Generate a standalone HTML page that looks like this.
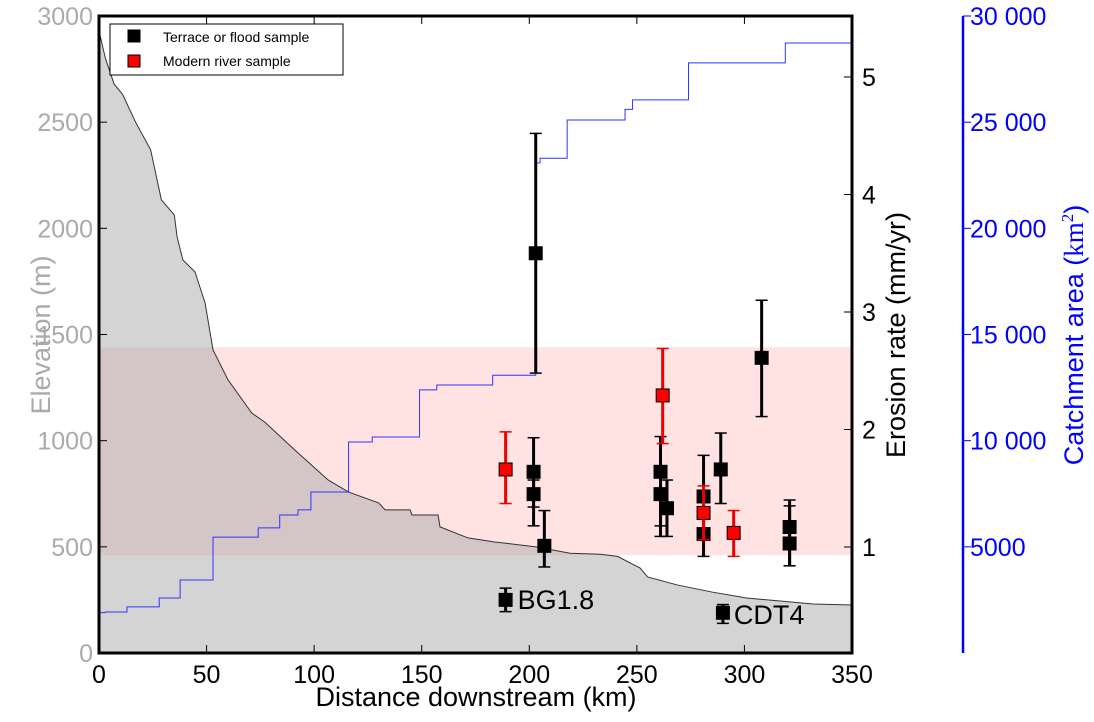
<!DOCTYPE html>
<html><head><meta charset="utf-8"><style>
body{margin:0;background:#fff}
text{font-family:"Liberation Sans",sans-serif}
</style></head><body>
<svg id="chart" width="1094" height="717" xmlns="http://www.w3.org/2000/svg"></svg>
<script>
// ---- data ----
const profileKm   = [0,3,7,11,17,24,29,35,36.3,39,44.6,49.3,53,60,71,77,91,106.5,116,130,133,144.6,145.5,157.6,158.5,171.5,184,203,219,233,241,251.5,255,269,285,301,332,350];
const profileElev = [2930,2800,2680,2630,2500,2370,2134,2063,1960,1851,1795,1649,1427,1286,1130,1088,956,815,758,707,674,674,650,650,594,542,523,500,470,465,455,400,358,320,287,259,231,226];
const catchKm   = [0,3,13,28,37.7,53,74,84,92.5,98.5,116,127,149,157,183,203,205,217.6,244.5,248,274,319,350];
const catchArea = [1900,1930,2170,2590,3440,5460,5890,6500,6740,7580,9940,10170,12390,12620,13080,23080,23300,25100,25600,26050,27790,28730,28870];
const blackKm  = [203,202,202,207,261,261,264,281,281,289,308,321,321,189,290];
const blackVal = [3.50,1.64,1.45,1.01,1.64,1.45,1.33,1.43,1.11,1.66,2.61,1.17,1.03,0.55,0.44];
const blackLo  = [2.48,1.18,1.34,0.83,1.18,1.09,1.09,1.08,0.92,1.37,2.11,0.84,0.84,0.45,0.35];
const blackHi  = [4.52,1.93,1.57,1.31,1.94,1.62,1.57,1.78,1.30,1.97,3.10,1.40,1.35,0.65,0.51];
const redKm  = [189,262,281,295];
const redVal = [1.66,2.29,1.29,1.12];
const redLo  = [1.37,1.88,1.06,0.92];
const redHi  = [1.98,2.69,1.52,1.31];
const xTicks = [0,50,100,150,200,250,300,350];
const elevTicks = [0,500,1000,1500,2000,2500,3000];
const erosTicks = [1,2,3,4,5];
const catchTicks = [5000,10000,15000,20000,25000,30000];
const catchLabels = ["5000","10 000","15 000","20 000","25 000","30 000"];
const bandLo = 0.93, bandHi = 2.70;

// ---- scales ----
const L=99,R=852,T=16,B=653;
const X=v=>L+v*(R-L)/350;
const YE=v=>B-v*(B-T)/3000;
const YR=v=>664.5-v*117.5;
const YC=v=>B-v*(B-T)/30000;
const svg=document.getElementById('chart');
const NS='http://www.w3.org/2000/svg';
function mk(tag,attrs,parent){const e=document.createElementNS(NS,tag);for(const k in attrs)e.setAttribute(k,attrs[k]);(parent||svg).appendChild(e);return e;}

let e=mk('rect',{x:L,y:YR(bandHi),width:R-L,height:YR(bandLo)-YR(bandHi),fill:'#ffcccc','fill-opacity':0.55});


let pts=profileKm.map((k,i)=>X(k)+','+YE(profileElev[i]));
e=mk('polygon',{points:X(0)+','+B+' '+pts.join(' ')+' '+X(350)+','+B,fill:'#aaa','fill-opacity':0.5});


e=mk('polyline',{points:pts.join(' '),fill:'none',stroke:'#333','stroke-width':1});


// catchment step (post)
let cp=[];
catchKm.forEach((k,i)=>{
  if(i>0) cp.push(X(k)+','+YC(catchArea[i-1]));
  cp.push(X(k)+','+YC(catchArea[i]));
});
e=mk('polyline',{points:cp.join(' '),fill:'none',stroke:'#3333ff','stroke-width':1});


function drawPts(km,val,lo,hi,col,name){
  km.forEach((k,i)=>{
    const g=mk('g',{});
    
    
    const x=X(k);
    mk('line',{x1:x,x2:x,y1:YR(lo[i]),y2:YR(hi[i]),stroke:col,'stroke-width':3},g);
    mk('line',{x1:x-6,x2:x+6,y1:YR(lo[i]),y2:YR(lo[i]),stroke:col,'stroke-width':1.5},g);
    mk('line',{x1:x-6,x2:x+6,y1:YR(hi[i]),y2:YR(hi[i]),stroke:col,'stroke-width':1.5},g);
    mk('rect',{x:x-6.5,y:YR(val[i])-6.5,width:13,height:13,fill:col==='#000'?'#000':'#f00',stroke:'#000','stroke-width':1},g);
  });
}
drawPts(blackKm,blackVal,blackLo,blackHi,'#000','terrace-sample');
drawPts(redKm,redVal,redLo,redHi,'#e00','modern-sample');
e=mk('text',{x:X(189)+12,y:YR(0.55)+9,'font-size':27});e.textContent='BG1.8';


e=mk('text',{x:X(290)+11,y:YR(0.44)+11,'font-size':27});e.textContent='CDT4';



e=mk('rect',{x:L,y:T,width:R-L,height:B-T,fill:'none',stroke:'#000','stroke-width':3});


xTicks.forEach(v=>{
  mk('line',{x1:X(v),x2:X(v),y1:B,y2:B-8,stroke:'#000'});
  mk('line',{x1:X(v),x2:X(v),y1:T,y2:T+8,stroke:'#000'});
  const t=mk('text',{x:X(v),y:B+30,'font-size':25,'text-anchor':'middle'});t.textContent=v;
  
  
});
elevTicks.forEach(v=>{
  mk('line',{x1:L,x2:L+8,y1:YE(v),y2:YE(v),stroke:'#000'});
  const t=mk('text',{x:L-6,y:YE(v)+9,'font-size':25,'text-anchor':'end',fill:'#aaa'});t.textContent=v;
  
  
});
erosTicks.forEach(v=>{
  mk('line',{x1:R,x2:R-8,y1:YR(v),y2:YR(v),stroke:'#000'});
  const t=mk('text',{x:R+10,y:YR(v)+9,'font-size':25});t.textContent=v;
  
  
});
e=mk('line',{x1:963,x2:963,y1:T,y2:B,stroke:'#00f','stroke-width':2.5});


catchTicks.forEach((v,i)=>{
  mk('line',{x1:963,x2:971,y1:YC(v),y2:YC(v),stroke:'#00f'});
  const t=mk('text',{x:970,y:YC(v)+9,'font-size':25,fill:'#00f'});t.textContent=catchLabels[i];
  
  
});
e=mk('text',{x:476,y:706,'font-size':27,'text-anchor':'middle'});e.textContent='Distance downstream (km)';


e=mk('text',{x:0,y:0,'font-size':27,'text-anchor':'middle',fill:'#aaa',transform:'translate(50,335) rotate(-90)'});e.textContent='Elevation (m)';


e=mk('text',{x:0,y:0,'font-size':27,'text-anchor':'middle',transform:'translate(905,335) rotate(-90)'});e.textContent='Erosion rate (mm/yr)';


e=mk('text',{x:0,y:0,'font-size':27,'text-anchor':'middle',fill:'#00f',transform:'translate(1083,335) rotate(-90)'});e.innerHTML='Catchment area (<tspan font-family="Liberation Serif">km</tspan><tspan dy="-10" font-size="17" font-family="Liberation Serif">2</tspan><tspan dy="10">)</tspan>';


const lg=mk('g',{});


mk('rect',{x:110,y:24,width:233,height:51,fill:'#fff',stroke:'#000','stroke-width':1},lg);
mk('rect',{x:128,y:30,width:12,height:12,fill:'#000',stroke:'#000'},lg);
mk('rect',{x:128,y:55,width:12,height:12,fill:'#f00',stroke:'#000'},lg);
let t1=mk('text',{x:163,y:42,'font-size':14},lg);t1.textContent='Terrace or flood sample';


let t2=mk('text',{x:163,y:66,'font-size':14},lg);t2.textContent='Modern river sample';


</script>
</body></html>
